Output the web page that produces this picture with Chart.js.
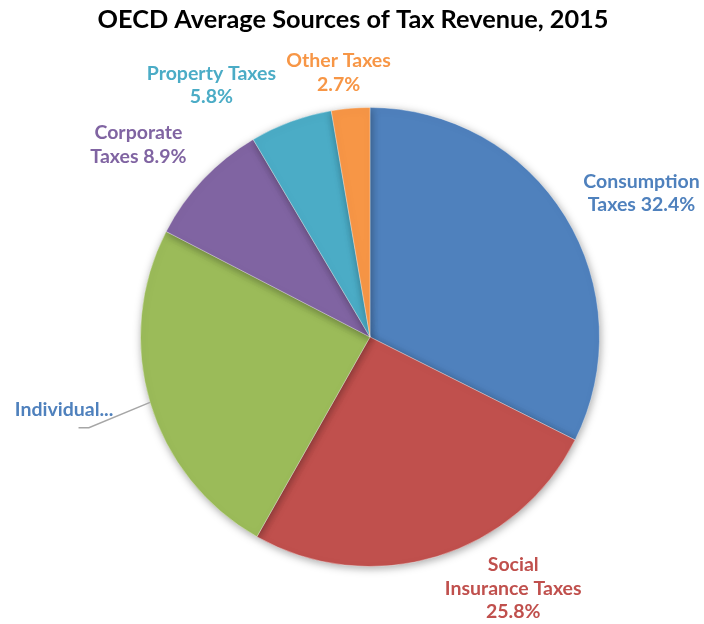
<!DOCTYPE html>
<html>
<head>
<meta charset="utf-8">
<script src="https://cdn.jsdelivr.net/npm/chart.js@4.4.1/dist/chart.umd.min.js"></script>
<style>
	html, body { margin: 0; padding: 0; background: #fff; }
	#wrap { width: 704px; height: 624px; position: relative; }
</style>
</head>
<body>
<div id="wrap"><canvas id="pieChart"></canvas></div>
<script>
var categories = ['Consumption Taxes', 'Social Insurance Taxes', 'Individual Taxes', 'Corporate Taxes', 'Property Taxes', 'Other Taxes'];
var shares = [32.4, 25.8, 24.4, 8.9, 5.8, 2.7];
var colors = ['#4f81bd', '#c0504d', '#9bbb59', '#8064a2', '#4bacc6', '#f79646'];
var labelColors = ['#4f81bd', '#c0504d', '#4f81bd', '#8064a2', '#4bacc6', '#f79646'];

// label text lines (as shown on the chart) and where each block is centred, relative to pie centre in radii
var labelLines = [
	['Consumption', 'Taxes 32.4%'],
	['Social', 'Insurance Taxes', '25.8%'],
	['Individual...'],
	['Corporate', 'Taxes 8.9%'],
	['Property Taxes', '5.8%'],
	['Other Taxes', '2.7%']
];
var labelPos = [
	[1.183, -0.626],
	[0.624, 1.096],
	[-1.333, 0.317],
	[-1.009, -0.837],
	[-0.691, -1.098],
	[-0.137, -1.152]
];

var font = 'Lato, "Open Sans", sans-serif';

var labelPlugin = {
	id: 'labels',
	beforeDatasetDraw: function(chart) {
		var ctx = chart.ctx;
		ctx.save();
		ctx.shadowColor = 'rgba(0,0,0,0.35)';
		ctx.shadowBlur = 9;
		ctx.shadowOffsetX = 1;
		ctx.shadowOffsetY = 2;
	},
	afterDatasetDraw: function(chart) {
		chart.ctx.restore();
	},
	afterDraw: function(chart) {
		var ctx = chart.ctx;
		var arc = chart.getDatasetMeta(0).data[0];
		var cx = arc.x, cy = arc.y, r = arc.outerRadius;

		ctx.save();
		// title
		ctx.fillStyle = '#000';
		ctx.font = 'bold 25.3px ' + font;
		ctx.textAlign = 'center';
		ctx.textBaseline = 'middle';
		ctx.fillText('OECD Average Sources of Tax Revenue, 2015', 353, 20);

		// leader line for Individual
		var ind = chart.getDatasetMeta(0).data[2];
		var mid = (ind.startAngle + ind.endAngle) / 2;
		ctx.strokeStyle = '#a6a6a6';
		ctx.lineWidth = 1.5;
		ctx.beginPath();
		ctx.moveTo(cx + Math.cos(mid) * r, cy + Math.sin(mid) * r);
		ctx.lineTo(cx - r * 1.225, cy + r * 0.395);
		ctx.lineTo(cx - r * 1.27, cy + r * 0.395);
		ctx.stroke();

		ctx.font = 'bold 19.5px ' + font;
		labelLines.forEach(function(lines, i) {
			ctx.fillStyle = labelColors[i];
			var x = cx + labelPos[i][0] * r;
			var y = cy + labelPos[i][1] * r;
			var h = 23.5;
			var y0 = y - (lines.length - 1) * h / 2;
			lines.forEach(function(t, j) {
				ctx.fillText(t, x, y0 + j * h);
			});
		});
		ctx.restore();
	}
};

var pieChart = new Chart(document.getElementById('pieChart'), {
	type: 'pie',
	data: {
		labels: categories,
		datasets: [{
			data: shares,
			backgroundColor: colors,
			borderColor: 'rgba(255,255,255,0.35)',
			borderWidth: 1
		}]
	},
	options: {
		responsive: true,
		maintainAspectRatio: false,
		animation: false,
		layout: { padding: { top: 107, bottom: 57, left: 140, right: 104 } },
		plugins: {
			legend: { display: false },
			tooltip: { enabled: false }
		}
	},
	plugins: [labelPlugin]
});
</script>
</body>
</html>
